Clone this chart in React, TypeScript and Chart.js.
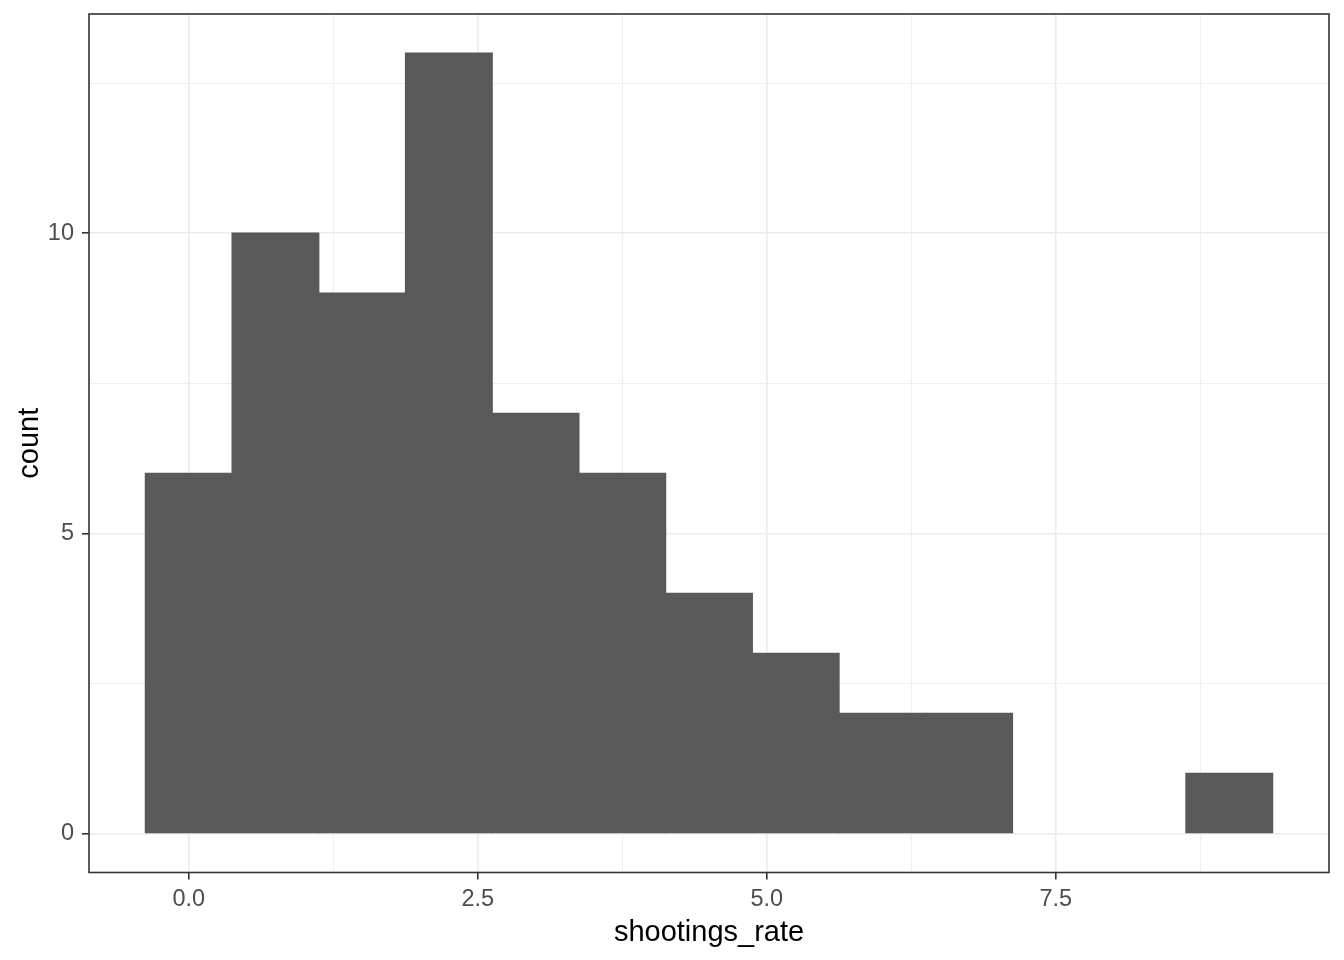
import React, { useEffect, useRef } from "react";
import { Chart, registerables } from "chart.js";

Chart.register(...registerables);

// Histogram bins (centers) and counts
const binCenters = [0, 0.75, 1.5, 2.25, 3.0, 3.75, 4.5, 5.25, 6.0, 6.75, 7.5, 8.25, 9.0];
const counts = [6, 10, 9, 13, 7, 6, 4, 3, 2, 2, 0, 0, 1];

const xMajorTicks = [0, 2.5, 5, 7.5];
const xMajorLabels = ["0.0", "2.5", "5.0", "7.5"];
const xMinorTicks = [1.25, 3.75, 6.25, 8.75];
const yMajorTicks = [0, 5, 10];
const yMajorLabels = ["0", "5", "10"];
const yMinorTicks = [2.5, 7.5, 12.5];

const xTitle = "shootings_rate";
const yTitle = "count";

const FONT = "'Liberation Sans', Arial, sans-serif";

const panelBorder = {
  id: "panelBorder",
  afterDraw(chart: any) {
    const { ctx, chartArea } = chart;
    ctx.save();
    ctx.strokeStyle = "#333333";
    ctx.lineWidth = 1.6;
    ctx.strokeRect(
      chartArea.left,
      chartArea.top,
      chartArea.right - chartArea.left,
      chartArea.bottom - chartArea.top
    );
    ctx.restore();
  },
};

function makeTicks(major: number[], minor: number[]) {
  return [...major, ...minor].sort((a, b) => a - b).map((v) => ({ value: v }));
}

export default function App() {
  const ref = useRef<HTMLCanvasElement | null>(null);

  useEffect(() => {
    document.body.style.margin = "0";
    const canvas = ref.current;
    if (!canvas) return;
    const data = binCenters
      .map((x, i) => ({ x, y: counts[i] }))
      .filter((p) => p.y > 0);

    const gridWidth = (major: number[]) => (c: any) =>
      c.tick && major.includes(c.tick.value) ? 1.6 : 0.8;
    const tickColor = (major: number[]) => (c: any) =>
      c.tick && major.includes(c.tick.value) ? "#333333" : "rgba(0,0,0,0)";

    const chart = new Chart(canvas, {
      type: "bar",
      data: {
        datasets: [
          {
            data,
            backgroundColor: "#595959",
            borderWidth: 0,
            categoryPercentage: 1,
            barPercentage: 1,
            inflateAmount: 0.6,
          } as any,
        ],
      },
      options: {
        animation: false,
        responsive: true,
        maintainAspectRatio: false,
        layout: { padding: { top: 14, right: 15, left: 0, bottom: 0 } },
        plugins: {
          legend: { display: false },
          tooltip: { enabled: false },
        },
        scales: {
          x: {
            type: "linear",
            min: -0.8625,
            max: 9.8625,
            offset: false,
            afterBuildTicks: (scale: any) => {
              scale.ticks = makeTicks(xMajorTicks, xMinorTicks);
            },
            afterFit: (scale: any) => {
              scale.height = 87.5;
              scale.paddingLeft = 0;
              scale.paddingRight = 0;
            },
            grid: {
              offset: false,
              color: "#EBEBEB",
              lineWidth: gridWidth(xMajorTicks),
              tickColor: tickColor(xMajorTicks),
              tickWidth: 1.6,
              tickLength: 7,
              drawTicks: true,
            } as any,
            border: { display: false },
            ticks: {
              autoSkip: false,
              maxRotation: 0,
              padding: 6,
              color: "#4D4D4D",
              font: { family: FONT, size: 23.5 },
              callback: (v: any) => {
                const i = xMajorTicks.indexOf(Number(v));
                return i >= 0 ? xMajorLabels[i] : "";
              },
            },
            title: {
              display: true,
              text: xTitle,
              color: "#000000",
              font: { family: FONT, size: 29 },
              padding: { top: 0, bottom: 10 },
            },
          },
          y: {
            type: "linear",
            min: -0.65,
            max: 13.65,
            afterBuildTicks: (scale: any) => {
              scale.ticks = makeTicks(yMajorTicks, yMinorTicks);
            },
            afterFit: (scale: any) => {
              scale.width = 89;
              scale.paddingTop = 0;
              scale.paddingBottom = 0;
            },
            grid: {
              color: "#EBEBEB",
              lineWidth: gridWidth(yMajorTicks),
              tickColor: tickColor(yMajorTicks),
              tickWidth: 1.6,
              tickLength: 7,
              drawTicks: true,
            } as any,
            border: { display: false },
            ticks: {
              autoSkip: false,
              padding: 8,
              color: "#4D4D4D",
              font: { family: FONT, size: 23.5 },
              callback: (v: any) => {
                const i = yMajorTicks.indexOf(Number(v));
                return i >= 0 ? yMajorLabels[i] : "";
              },
            },
            title: {
              display: true,
              text: yTitle,
              color: "#000000",
              font: { family: FONT, size: 29 },
              padding: { top: 13, bottom: 0 },
            },
          },
        },
      },
      plugins: [panelBorder],
    });
    return () => chart.destroy();
  }, []);

  return (
    <div style={{ width: 1344, height: 960, position: "relative" }}>
      <canvas ref={ref} />
    </div>
  );
}
